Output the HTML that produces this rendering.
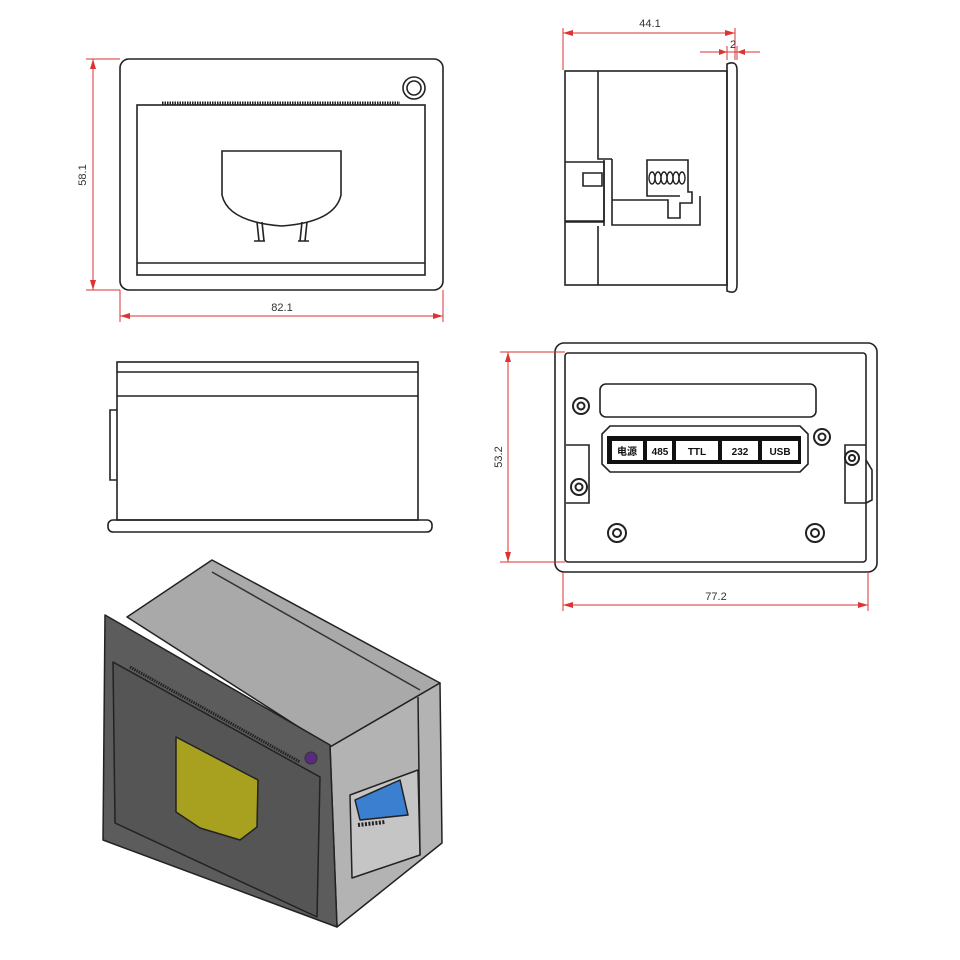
<!DOCTYPE html>
<html><head><meta charset="utf-8"><style>html,body{margin:0;padding:0;background:#fff}svg{display:block}</style></head>
<body>
<svg width="960" height="960" viewBox="0 0 960 960" xmlns="http://www.w3.org/2000/svg" font-family="Liberation Sans, Noto Sans CJK SC, sans-serif">
<g fill="none" stroke="#222" stroke-width="1.6">
<!-- FRONT VIEW -->
<rect x="120" y="59" width="323" height="231" rx="9"/>
<rect x="137" y="105" width="288" height="170"/>
<line x1="137" y1="263" x2="425" y2="263"/>
<line x1="162" y1="103" x2="400" y2="103" stroke-width="3" stroke-dasharray="1.5 1"/>
<circle cx="414" cy="88" r="11"/><circle cx="414" cy="88" r="7"/>
<path d="M222 151 H341 V195 Q335 222 282 226 Q228 222 222 195 Z"/>
<path d="M257 222 L259 241 M262 222 L264 241 M254 241 H265 M302 222 L300 241 M307 222 L305 241 M298 241 H309"/>
<!-- SIDE VIEW -->
<rect x="565" y="71" width="162" height="214"/>
<path d="M727 64 Q737 60 737 70 V285 Q737 295 727 291 Z"/>
<path d="M598 71 V159 H612 M598 285 V226"/>
<path d="M565 162 H604 V222 H565 M565 221 H604"/>
<path d="M583 173 H602 V186 H583 Z"/>
<path d="M604 160 V226 M612 159 V225 H700 V196 M612 200 H668 V218 H680 V203 H692 V192 H688 V160 H647 V196 H680"/>
</g>
<g fill="none" stroke="#222" stroke-width="1.4">
<ellipse cx="652" cy="178" rx="3" ry="6"/><ellipse cx="658" cy="178" rx="3" ry="6"/><ellipse cx="664" cy="178" rx="3" ry="6"/>
<ellipse cx="670" cy="178" rx="3" ry="6"/><ellipse cx="676" cy="178" rx="3" ry="6"/><ellipse cx="682" cy="178" rx="3" ry="6"/>
</g>
<g fill="none" stroke="#222" stroke-width="1.6">
<!-- TOP VIEW -->
<rect x="117" y="362" width="301" height="158"/>
<line x1="117" y1="372" x2="418" y2="372"/>
<line x1="117" y1="396" x2="418" y2="396"/>
<rect x="108" y="520" width="324" height="12" rx="5"/>
<path d="M117 410 H110 V480 H117"/>
<!-- REAR VIEW -->
<rect x="555" y="343" width="322" height="229" rx="9"/>
<rect x="565" y="353" width="301" height="209" rx="3"/>
<rect x="600" y="384" width="216" height="33" rx="6"/>
<path d="M610 426 H800 L808 434 V464 L800 472 H610 L602 464 V434 Z"/>
<path d="M566 445 H589 V503 H566 M866 445 H845 V503 H866 M866 460 L872 470 V500 L866 503"/>
</g>
<g fill="#111">
<rect x="607" y="436" width="194" height="28"/>
</g>
<g fill="#fff" stroke="none">
<rect x="612" y="441" width="31" height="19"/><rect x="647" y="441" width="25" height="19"/>
<rect x="676" y="441" width="42" height="19"/><rect x="722" y="441" width="36" height="19"/>
<rect x="762" y="441" width="36" height="19"/>
</g>
<g font-size="10" font-weight="bold" fill="#111" text-anchor="middle">
<text x="627" y="455">电源</text><text x="660" y="455">485</text><text x="697" y="455">TTL</text><text x="740" y="455">232</text><text x="780" y="455">USB</text>
</g>
<g fill="none" stroke="#222" stroke-width="2">
<circle cx="581" cy="406" r="8"/><circle cx="581" cy="406" r="3.5"/>
<circle cx="822" cy="437" r="8"/><circle cx="822" cy="437" r="3.5"/>
<circle cx="579" cy="487" r="8"/><circle cx="579" cy="487" r="3.5"/>
<circle cx="852" cy="458" r="7"/><circle cx="852" cy="458" r="3"/>
<circle cx="617" cy="533" r="9"/><circle cx="617" cy="533" r="4"/>
<circle cx="815" cy="533" r="9"/><circle cx="815" cy="533" r="4"/>
</g>
<!-- DIMENSIONS -->
<g stroke="#d33" stroke-width="1" fill="none">
<path d="M86 59 H120 M86 290 H120 M93 59 V290"/>
<path d="M120 290 V322 M443 290 V322 M120 316 H443"/>
<path d="M563 28 V70 M735 28 V60 M563 33 H735"/>
<path d="M700 52 H760 M727 46 V60 M737 46 V60"/>
<path d="M500 352 H565 M500 562 H565 M508 352 V562"/>
<path d="M563 572 V611 M868 572 V611 M563 605 H868"/>
</g>
<g fill="#d33">
<path d="M93 59 l-3 10 h6z M93 290 l-3 -10 h6z M120 316 l10 -3 v6z M443 316 l-10 -3 v6z M563 33 l10 -3 v6z M735 33 l-10 -3 v6z M727 52 l-8 -3 v6z M737 52 l8 -3 v6z M508 352 l-3 10 h6z M508 562 l-3 -10 h6z M563 605 l10 -3 v6z M868 605 l-10 -3 v6z"/>
</g>
<g font-size="11" fill="#333" text-anchor="middle">
<text x="86" y="175" transform="rotate(-90 86 175)">58.1</text>
<text x="282" y="311">82.1</text>
<text x="650" y="27">44.1</text>
<text x="733" y="48">2</text>
<text x="502" y="457" transform="rotate(-90 502 457)">53.2</text>
<text x="716" y="600">77.2</text>
</g>
<!-- ISO VIEW -->
<g stroke="#222" stroke-width="1.5" stroke-linejoin="round">
<polygon points="127,617 212,560 440,683 330,747" fill="#a9a9a9"/>
<line x1="212" y1="572" x2="420" y2="690" stroke="#333"/>
<polygon points="330,747 440,683 442,843 337,927" fill="#b3b3b3"/>
<line x1="418" y1="697" x2="420" y2="855"/>
<polygon points="105,615 330,745 337,927 103,840" fill="#5c5c5c"/>
<polygon points="113,662 320,777 317,917 115,823" fill="#555"/>
<polygon points="350,795 418,770 420,855 352,878" fill="#c5c5c5"/>
<polygon points="176,737 258,780 257,827 240,840 200,828 176,812" fill="#a8a11f"/>
<polygon points="355,800 400,780 408,815 360,820" fill="#3a7fd0"/>
</g>
<path d="M130 667 L300 762" stroke="#222" stroke-width="3" stroke-dasharray="1.5 1"/>
<circle cx="311" cy="758" r="6" fill="#5a2a80" stroke="#333"/>
<path d="M358 825 L385 822" stroke="#222" stroke-width="4" stroke-dasharray="2 1.5"/>
</svg>
</body></html>
